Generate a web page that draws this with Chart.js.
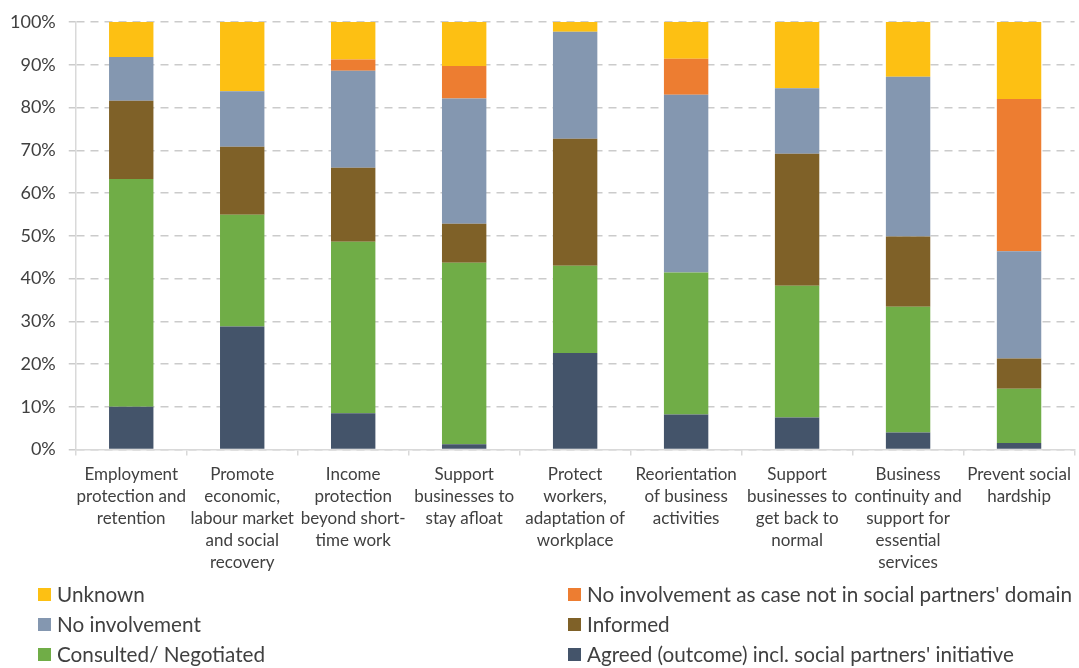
<!DOCTYPE html>
<html>
<head>
<meta charset="utf-8">
<script src="https://cdn.jsdelivr.net/npm/chart.js@4.4.1/dist/chart.umd.min.js"></script>
<style>
    html, body { margin: 0; padding: 0; background: #fff; }
    #wrap { position: relative; width: 1079px; height: 668px; }
    #chartBox { position: absolute; left: 0; top: 0; width: 1079px; height: 582px; }
    #legend {
        position: absolute; left: 38px; top: 579px; width: 1041px;
        display: grid; grid-template-columns: 530px 511px; grid-auto-rows: 30px;
        font-family: Lato, 'DejaVu Sans Condensed', sans-serif;
        font-size: 20.7px; color: #404040;
    }
    .item { display: flex; align-items: center; white-space: nowrap; }
    .swatch { width: 13px; height: 13px; margin-right: 6px; flex: none; }
</style>
</head>
<body>
<div id="wrap">
    <div id="chartBox"><canvas id="chart"></canvas></div>
    <div id="legend"></div>
</div>
<script>
// Categories (x axis, wrapped as in the source)
const categories = [
    ['Employment', 'protection and', 'retention'],
    ['Promote', 'economic,', 'labour market', 'and social', 'recovery'],
    ['Income', 'protection', 'beyond short-', 'time work'],
    ['Support', 'businesses to', 'stay afloat'],
    ['Protect', 'workers,', 'adaptation of', 'workplace'],
    ['Reorientation', 'of business', 'activities'],
    ['Support', 'businesses to', 'get back to', 'normal'],
    ['Business', 'continuity and', 'support for', 'essential', 'services'],
    ['Prevent social', 'hardship']
];

// Shares in % (stack order bottom -> top)
const agreed        = [10.0, 28.8,  8.5,  1.2, 22.6,  8.2,  7.5,  4.0,  1.5];
const consulted     = [53.3, 26.1, 40.1, 42.5, 20.4, 33.2, 30.8, 29.4, 12.7];
const informed      = [18.3, 15.9, 17.3,  9.1, 29.7,  0.0, 30.9, 16.4,  7.1];
const noInvolvement = [10.2, 13.0, 22.7, 29.3, 25.0, 41.6, 15.3, 37.4, 25.1];
const notInDomain   = [ 0.0,  0.0,  2.6,  7.6,  0.0,  8.4,  0.0,  0.0, 35.6];
const unknown       = [ 8.2, 16.2,  8.8, 10.3,  2.3,  8.6, 15.5, 12.8, 18.0];

const yTicks = [0, 10, 20, 30, 40, 50, 60, 70, 80, 90, 100];

const FONT = "Lato, 'DejaVu Sans Condensed', sans-serif";
const TEXT = '#404040';

const series = [
    { label: "Agreed (outcome) incl. social partners' initiative", data: agreed, color: '#44546A' },
    { label: 'Consulted/ Negotiated', data: consulted, color: '#70AD47' },
    { label: 'Informed', data: informed, color: '#7F6128' },
    { label: 'No involvement', data: noInvolvement, color: '#8497B0' },
    { label: "No involvement as case not in social partners' domain", data: notInDomain, color: '#ED7D31' },
    { label: 'Unknown', data: unknown, color: '#FDC013' }
];

new Chart(document.getElementById('chart'), {
    type: 'bar',
    data: {
        labels: categories,
        datasets: series.map(s => ({
            label: s.label,
            data: s.data,
            backgroundColor: s.color,
            borderWidth: 0,
            barPercentage: 0.4,
            categoryPercentage: 1.0
        }))
    },
    options: {
        responsive: true,
        maintainAspectRatio: false,
        animation: false,
        layout: { padding: { top: 0, right: 2, left: 10, bottom: 0 } },
        plugins: {
            legend: { display: false },
            tooltip: { enabled: false }
        },
        scales: {
            x: {
                stacked: true,
                grid: { drawOnChartArea: false, drawTicks: true, tickLength: 6, color: '#d9d9d9', lineWidth: 1.5 },
                border: { color: '#d9d9d9', width: 1.5 },
                ticks: {
                    autoSkip: false, maxRotation: 0, minRotation: 0, padding: 8,
                    color: TEXT, font: { family: FONT, size: 17, lineHeight: 1.3 }
                }
            },
            y: {
                stacked: true,
                min: 0,
                max: 100,
                afterBuildTicks: axis => { axis.ticks = yTicks.map(v => ({ value: v })); },
                // drop the extra padding Chart.js puts left of the labels
                afterFit: axis => { axis.width -= axis.options.ticks.padding; },
                grid: { color: '#cbcbcb', lineWidth: 1.5, tickLength: 7 },
                border: { color: '#d9d9d9', width: 1.5, dash: [8, 6] },
                ticks: {
                    padding: 13, color: TEXT,
                    font: { family: FONT, size: 18, lineHeight: 1.0 },
                    callback: v => v + '%'
                }
            }
        }
    }
});

// Legend: two columns, same order as the source (top of stack first)
const legendOrder = [5, 4, 3, 2, 1, 0];
const legendEl = document.getElementById('legend');
legendOrder.forEach(i => {
    const s = series[i];
    const item = document.createElement('div');
    item.className = 'item';
    item.innerHTML = '<span class="swatch" style="background:' + s.color + '"></span><span></span>';
    item.lastChild.textContent = s.label;
    legendEl.appendChild(item);
});
</script>
</body>
</html>
